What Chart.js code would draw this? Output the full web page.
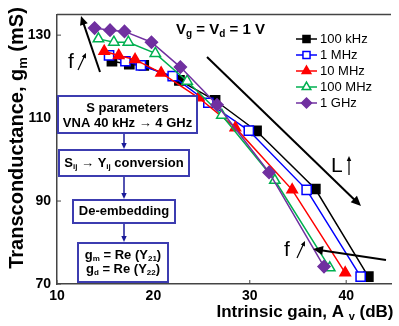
<!DOCTYPE html>
<html>
<head>
<meta charset="utf-8">
<script src="https://cdn.jsdelivr.net/npm/chart.js@4.4.0/dist/chart.umd.min.js"></script>
<style>
  html, body { margin:0; padding:0; background:#fff; }
  #c { display:block; }
</style>
</head>
<body>
<canvas id="c" width="399" height="326"></canvas>
<script>
// series labels
const seriesNames = ['100 kHz', '1 MHz', '10 MHz', '100 MHz', '1 GHz'];

// intrinsic gain Av (dB) for each series
const gain100k = [15.7, 17.5, 19.0, 22.7, 26.4, 30.7, 36.8, 42.3];
const gain1M   = [15.4, 17.1, 18.7, 22.0, 25.7, 29.9, 35.9, 41.5];
const gain10M  = [14.9, 16.4, 18.1, 20.8, 24.7, 28.5, 34.4, 39.9];
const gain100M = [14.3, 15.9, 17.4, 20.2, 23.5, 27.1, 32.6, 38.3];
const gain1G   = [13.9, 15.5, 17.0, 19.8, 22.8, 26.6, 32.0, 37.7];

// transconductance gm (mS) for each series
const gm100k = [123.7, 123.0, 122.7, 119.1, 114.3, 106.9, 92.9, 71.8];
const gm1M   = [125.1, 123.7, 122.7, 120.1, 113.7, 107.0, 92.7, 71.8];
const gm10M  = [126.1, 125.1, 124.1, 120.9, 114.9, 107.7, 92.7, 72.7];
const gm100M = [129.1, 128.3, 128.3, 125.6, 118.9, 110.7, 95.0, 73.9];
const gm1G   = [131.7, 131.2, 130.9, 128.3, 122.3, 113.2, 96.9, 74.2];

const xTicks = [10, 20, 30, 40];
const yTicks = [70, 90, 110, 130];

function pts(xs, ys) {
  return xs.map((x, i) => ({x: x, y: ys[i]}));
}

const FONT = 'Arial, "Liberation Sans", sans-serif';

const styles = [
  {color:'#000000', fill:'#000000', pointStyle:'rect', radius:6.5},
  {color:'#0000ff', fill:'#ffffff', pointStyle:'rect', radius:6.5},
  {color:'#ff0000', fill:'#ff0000', pointStyle:'triangle', radius:6},
  {color:'#00b050', fill:'#ffffff', pointStyle:'triangle', radius:6},
  {color:'#7030a0', fill:'#7030a0', pointStyle:'rectRot', radius:6}
];
const seriesData = [
  pts(gain100k, gm100k),
  pts(gain1M, gm1M),
  pts(gain10M, gm10M),
  pts(gain100M, gm100M),
  pts(gain1G, gm1G)
];

// draw text with subscripts: parts = [[text, isSub], ...]
function richWidth(ctx, parts, size, bold) {
  let w = 0;
  parts.forEach(p => {
    ctx.font = (bold ? 'bold ' : '') + (p[1] ? Math.round(size*0.65) : size) + 'px ' + FONT;
    w += ctx.measureText(p[0]).width;
  });
  return w;
}
function drawRich(ctx, parts, x, y, size, bold, align) {
  const w = richWidth(ctx, parts, size, bold);
  let cx = align === 'center' ? x - w/2 : x;
  ctx.textBaseline = 'middle';
  ctx.textAlign = 'left';
  parts.forEach(p => {
    ctx.font = (bold ? 'bold ' : '') + (p[1] ? Math.round(size*0.65) : size) + 'px ' + FONT;
    ctx.fillText(p[0], cx, p[1] ? y + size*0.3 : y);
    cx += ctx.measureText(p[0]).width;
  });
}

function arrow(ctx, x1, y1, x2, y2, lw, head, color) {
  const a = Math.atan2(y2 - y1, x2 - x1);
  ctx.save();
  ctx.strokeStyle = color; ctx.fillStyle = color; ctx.lineWidth = lw;
  ctx.beginPath();
  ctx.moveTo(x1, y1);
  ctx.lineTo(x2 - Math.cos(a)*head*0.8, y2 - Math.sin(a)*head*0.8);
  ctx.stroke();
  ctx.beginPath();
  ctx.moveTo(x2, y2);
  ctx.lineTo(x2 - head*Math.cos(a) + head*0.45*Math.sin(a), y2 - head*Math.sin(a) - head*0.45*Math.cos(a));
  ctx.lineTo(x2 - head*Math.cos(a) - head*0.45*Math.sin(a), y2 - head*Math.sin(a) + head*0.45*Math.cos(a));
  ctx.closePath();
  ctx.fill();
  ctx.restore();
}

const decor = {
  id: 'decor',
  afterDraw(chart) {
    const ctx = chart.ctx;
    const area = chart.chartArea;
    const xs = chart.scales.x, ys = chart.scales.y;
    ctx.save();

    // frame top line + inner ticks
    ctx.strokeStyle = '#444'; ctx.lineWidth = 1.5;
    ctx.beginPath();
    ctx.moveTo(area.left, area.top); ctx.lineTo(area.right, area.top);
    ctx.stroke();
    ctx.lineWidth = 1;
    ctx.beginPath();
    yTicks.forEach(v => {
      const py = ys.getPixelForValue(v);
      ctx.moveTo(area.left, py); ctx.lineTo(area.left + 4, py);
    });
    xTicks.forEach(v => {
      const px = xs.getPixelForValue(v);
      ctx.moveTo(px, area.bottom); ctx.lineTo(px, area.bottom - 4);
    });
    ctx.stroke();

    // axis titles
    ctx.fillStyle = '#000';
    drawRich(ctx, [['Intrinsic gain, A ', false], ['v', true], [' (dB)', false]], 305, 312, 17, true, 'center');
    ctx.save();
    ctx.translate(17, 138);
    ctx.rotate(-Math.PI/2);
    drawRich(ctx, [['Transconductance, g', false], ['m', true], [' (mS)', false]], 0, 0, 20, true, 'center');
    ctx.restore();

    // bias text
    drawRich(ctx, [['V', false], ['g', true], [' = V', false], ['d', true], [' = 1 V', false]], 176, 30, 15, true, 'left');

    // legend
    chart.data.datasets.forEach((ds, i) => {
      const ly = 39 + i*16;
      ctx.strokeStyle = ds.borderColor; ctx.lineWidth = 1.5;
      ctx.beginPath(); ctx.moveTo(296, ly); ctx.lineTo(317, ly); ctx.stroke();
      ctx.fillStyle = ds.pointBackgroundColor;
      ctx.strokeStyle = ds.borderColor;
      Chart.helpers.drawPoint(ctx, {pointStyle: ds.pointStyle, radius: 5, rotation: 0, borderWidth: 1.5}, 306.5, ly);
      ctx.fillStyle = '#000';
      ctx.font = '13px ' + FONT;
      ctx.textAlign = 'left'; ctx.textBaseline = 'middle';
      ctx.fillText(ds.label, 320, ly);
    });

    // trend arrows
    arrow(ctx, 100, 72, 81, 16, 2, 9, '#000');
    arrow(ctx, 207, 57, 361, 206, 2, 10, '#000');
    arrow(ctx, 386, 260, 313, 249, 2, 10, '#000');
    arrow(ctx, 78, 70, 86, 53, 1.2, 5, '#000');
    arrow(ctx, 297, 258, 305, 241, 1.2, 5, '#000');
    ctx.fillStyle = '#000';
    ctx.font = '21px ' + FONT;
    ctx.textAlign = 'left'; ctx.textBaseline = 'middle';
    ctx.fillText('f', 68, 62);
    ctx.fillText('f', 284, 250);
    ctx.fillText('L', 331, 166);
    arrow(ctx, 349, 175, 349, 156, 1.2, 5, '#000');

    // flowchart
    const boxes = [
      [58, 96, 139, 37],
      [59, 150, 130, 26],
      [73, 200, 102, 23],
      [78, 243, 90, 39]
    ];
    ctx.fillStyle = '#fff';
    ctx.strokeStyle = '#3c3cb0'; ctx.lineWidth = 2;
    boxes.forEach(b => { ctx.fillRect(b[0], b[1], b[2], b[3]); ctx.strokeRect(b[0], b[1], b[2], b[3]); });
    arrow(ctx, 124, 134, 124, 149, 1.5, 6, '#1a1a99');
    arrow(ctx, 124, 177, 124, 199, 1.5, 6, '#1a1a99');
    arrow(ctx, 124, 224, 124, 242, 1.5, 6, '#1a1a99');
    ctx.fillStyle = '#000';
    drawRich(ctx, [['S parameters', false]], 127.5, 108, 13, true, 'center');
    drawRich(ctx, [['VNA 40 kHz \u2192 4 GHz', false]], 127.5, 123, 13, true, 'center');
    drawRich(ctx, [['S', false], ['ij', true], [' \u2192 Y', false], ['ij', true], [' conversion', false]], 124, 163, 13, true, 'center');
    drawRich(ctx, [['De-embedding', false]], 124, 211.5, 13, true, 'center');
    drawRich(ctx, [['g', false], ['m', true], [' = Re (Y', false], ['21', true], [')', false]], 123, 255, 13, true, 'center');
    drawRich(ctx, [['g', false], ['d', true], [' = Re (Y', false], ['22', true], [')', false]], 123, 269, 13, true, 'center');

    ctx.restore();
  }
};

new Chart(document.getElementById('c').getContext('2d'), {
  type: 'line',
  data: {
    datasets: seriesNames.map((name, i) => ({
      label: name,
      data: seriesData[i],
      borderColor: styles[i].color,
      backgroundColor: styles[i].fill,
      pointBackgroundColor: styles[i].fill,
      pointBorderColor: styles[i].color,
      pointStyle: styles[i].pointStyle,
      pointRadius: styles[i].radius,
      pointBorderWidth: 1.5,
      borderWidth: 1.5,
      fill: false,
      tension: 0,
      order: 5 - i
    }))
  },
  options: {
    responsive: false,
    devicePixelRatio: 1,
    animation: false,
    layout: {padding: {left: 0, top: 13, right: 0, bottom: 0}},
    plugins: {legend: {display: false}, tooltip: {enabled: false}},
    scales: {
      x: {
        type: 'linear',
        min: 10, max: 44.65,
        afterBuildTicks: s => { s.ticks = xTicks.map(v => ({value: v})); },
        afterFit: s => { s.height = 42; },
        grid: {display: false, drawTicks: false},
        border: {display: true, color: '#444', width: 1.5},
        ticks: {color: '#000', font: {family: FONT, size: 14, weight: 'bold'}, padding: 4, maxRotation: 0}
      },
      y: {
        type: 'linear',
        min: 70, max: 135,
        afterBuildTicks: s => { s.ticks = yTicks.map(v => ({value: v})); },
        afterFit: s => { s.width = 57; },
        grid: {display: false, drawTicks: false},
        border: {display: true, color: '#444', width: 1.5},
        ticks: {color: '#000', font: {family: FONT, size: 14, weight: 'bold'}, padding: 6}
      }
    }
  },
  plugins: [decor]
});
</script>
</body>
</html>
